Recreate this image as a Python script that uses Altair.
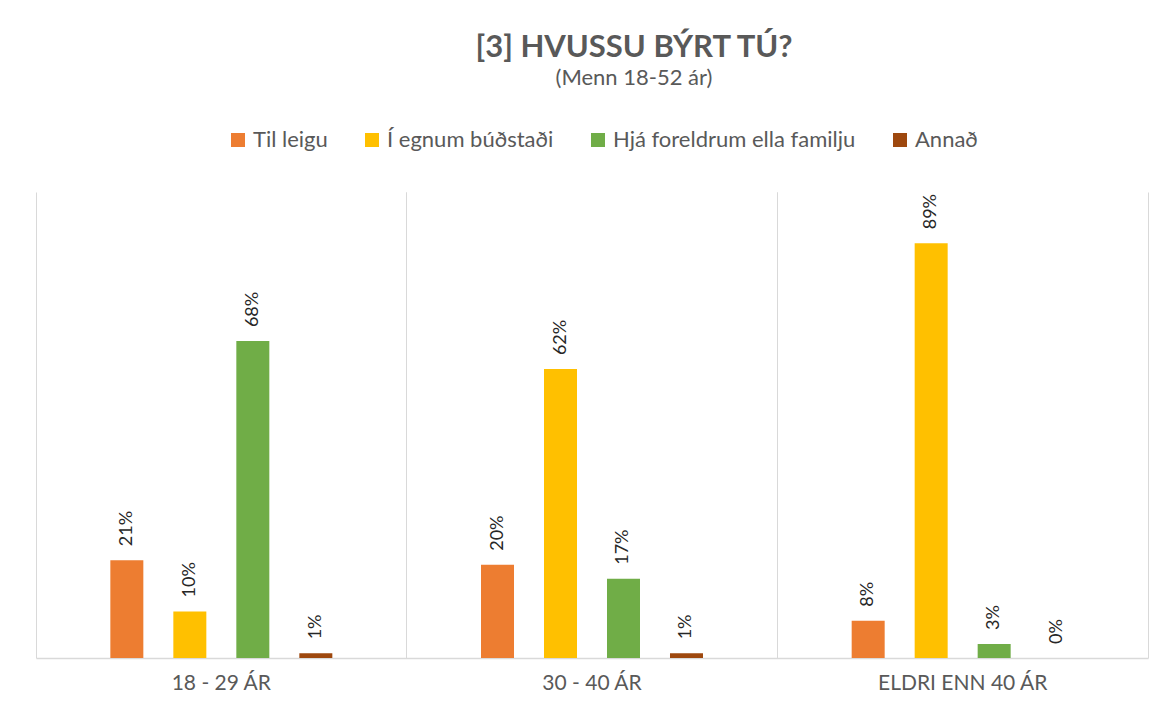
import altair as alt
import pandas as pd

groups = ["18 - 29 ÁR", "30 - 40 ÁR", "ELDRI ENN 40 ÁR"]
series = ["Til leigu", "Í egnum búðstaði", "Hjá foreldrum ella familju", "Annað"]
colors = ["#ED7D31", "#FFC000", "#70AD47", "#9E480E"]
values = {
    "Til leigu": [21, 20, 8],
    "Í egnum búðstaði": [10, 62, 89],
    "Hjá foreldrum ella familju": [68, 17, 3],
    "Annað": [1, 1, 0],
}

rows = []
for s in series:
    for g, v in zip(groups, values[s]):
        rows.append({"group": g, "series": s, "value": v, "label": f"{v}%"})
df = pd.DataFrame(rows)

FONT = "Lato"

x_enc = alt.X("group:N", sort=groups,
              scale=alt.Scale(paddingInner=0, paddingOuter=0),
              axis=alt.Axis(title=None, grid=True, bandPosition=0, gridColor="#D9D9D9",
                            domain=True, domainColor="#D9D9D9", domainWidth=1.5, ticks=False,
                            labelFont=FONT, labelFontSize=21, labelColor="#595959",
                            labelPadding=14, labelAngle=0))
xo_enc = alt.XOffset("series:N", sort=series,
                     scale=alt.Scale(paddingInner=0.116, paddingOuter=1))
y_enc = alt.Y("value:Q", scale=alt.Scale(domain=[0, 100]), axis=None)

bars = alt.Chart(df).mark_bar(width=33).encode(
    x=x_enc,
    xOffset=xo_enc,
    y=y_enc,
    color=alt.Color("series:N", sort=series,
                    scale=alt.Scale(domain=series, range=colors),
                    legend=alt.Legend(title=None, orient="none", direction="horizontal",
                                      legendX=191, legendY=-63, padding=0,
                                      symbolType="square", symbolSize=196, symbolStrokeWidth=0,
                                      labelFont=FONT, labelFontSize=22, labelColor="#595959",
                                      labelOffset=4, columnPadding=33, columns=4,
                                      labelLimit=0)),
)

labels = alt.Chart(df).mark_text(angle=270, align="left", baseline="middle", dx=14,
                                 font=FONT, fontSize=18, color="#262626").encode(
    x=alt.X("group:N", sort=groups,
            axis=alt.Axis(orient="top", title=None, grid=True, bandPosition=1,
                          gridColor="#D9D9D9", labels=False, ticks=False, domain=False)),
    xOffset=xo_enc,
    y=y_enc,
    text="label:N",
)

chart = alt.layer(bars, labels).resolve_axis(x="independent").properties(
    width=1112,
    height=466,
    background="white",
    autosize=alt.AutoSizeParams(type="none"),
    padding={"left": 28, "top": 184, "right": 14, "bottom": 45},
    title=alt.TitleParams(
        text="[3] HVUSSU BÝRT TÚ?",
        subtitle="(Menn 18-52 ár)",
        anchor="middle", frame="group", dx=42,
        font=FONT, fontSize=31, fontWeight="bold", color="#595959",
        subtitleFont=FONT, subtitleFontSize=22, subtitleColor="#595959",
        subtitlePadding=4, offset=39,
    ),
).configure_view(strokeWidth=0)

chart.save("out.html", embed_options={"renderer": "svg", "actions": False})
